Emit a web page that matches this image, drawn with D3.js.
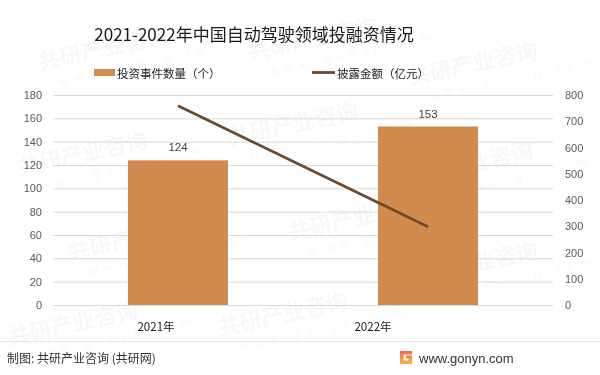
<!DOCTYPE html>
<html lang="zh">
<head>
<meta charset="UTF-8">
<title>2021-2022年中国自动驾驶领域投融资情况</title>
<style>
    body { margin: 0; background: #fff; }
    svg { display: block; font-family: "Noto Sans CJK SC", "Noto Sans", sans-serif; }
</style>
</head>
<body>
<svg id="SVG"></svg>
<script src="https://d3js.org/d3.v7.min.js"></script>
<script>
    // 数据
    var years = ["2021年", "2022年"];
    var eventCounts = [124, 153];        // 投资事件数量（个）
    var amounts = [759, 298];            // 披露金额（亿元）
    var leftTicks = [0, 20, 40, 60, 80, 100, 120, 140, 160, 180];
    var rightTicks = [0, 100, 200, 300, 400, 500, 600, 700, 800];

    var width = 600, height = 375;
    var plotLeft = 53, plotRight = 553, plotTop = 95, plotBottom = 305;

    var svg = d3.select("#SVG").attr("width", width).attr("height", height);

    // 水印
    var wm = svg.append("g").attr("fill", "#000").attr("opacity", 0.035)
        .attr("font-weight", "bold");
    var wmPos = [[40, 70], [250, 60], [410, 85], [20, 175], [230, 145], [405, 185],
                 [70, 260], [290, 240], [410, 285], [10, 345], [220, 335]];
    wmPos.forEach(function (p) {
        var g = wm.append("g").attr("transform", `translate(${p[0]},${p[1]}) rotate(-12)`);
        g.append("text").attr("font-size", 22).text("共研产业咨询");
        g.append("text").attr("y", 19).attr("x", 16).attr("font-size", 12)
            .attr("letter-spacing", 6).attr("font-weight", "normal").text("www.gonyn.com");
    });

    // 标题
    svg.append("text")
        .attr("x", 254).attr("y", 41)
        .attr("text-anchor", "middle")
        .attr("font-size", 17).attr("fill", "#1a1a1a")
        .text("2021-2022年中国自动驾驶领域投融资情况");

    // 比例尺
    var x = d3.scaleBand().domain(years).range([plotLeft, plotRight])
        .paddingInner(0.6).paddingOuter(0.3);
    var xLabel = d3.scalePoint().domain(years).range([156, 373]);
    var yLeft = d3.scaleLinear().domain([0, 180]).range([plotBottom, plotTop]);
    var yRight = d3.scaleLinear().domain([0, 800]).range([plotBottom, plotTop]);

    // 网格线
    svg.append("g").selectAll("line").data(leftTicks).enter().append("line")
        .attr("x1", plotLeft).attr("x2", plotRight)
        .attr("y1", d => yLeft(d) + 0.5).attr("y2", d => yLeft(d) + 0.5)
        .attr("stroke", "#d9d9d9").attr("stroke-width", 1);

    // 左轴
    var axisL = d3.axisLeft(yLeft).tickValues(leftTicks).tickSize(0).tickPadding(11);
    var gl = svg.append("g").attr("transform", `translate(${plotLeft},0)`).call(axisL);
    gl.select(".domain").remove();
    gl.selectAll("text").attr("font-size", 11).attr("fill", "#595959")
        .attr("font-family", "'Liberation Sans', Arial, sans-serif");

    // 右轴
    var axisR = d3.axisRight(yRight).tickValues(rightTicks).tickSize(0).tickPadding(12);
    var gr = svg.append("g").attr("transform", `translate(${plotRight},0)`).call(axisR);
    gr.select(".domain").remove();
    gr.selectAll("text").attr("font-size", 11).attr("fill", "#595959")
        .attr("font-family", "'Liberation Sans', Arial, sans-serif");

    // 柱子
    svg.append("g").selectAll("rect").data(eventCounts).enter().append("rect")
        .attr("x", (d, i) => x(years[i]))
        .attr("y", d => yLeft(d))
        .attr("width", x.bandwidth())
        .attr("height", d => yLeft(0) - yLeft(d))
        .attr("fill", "#d28b4f");

    // 柱子数值
    svg.append("g").selectAll("text").data(eventCounts).enter().append("text")
        .attr("x", (d, i) => x(years[i]) + x.bandwidth() / 2)
        .attr("y", d => yLeft(d) - 9)
        .attr("text-anchor", "middle")
        .attr("font-size", 11.5).attr("fill", "#404040")
        .attr("font-family", "'Liberation Sans', Arial, sans-serif")
        .text(d => d);

    // 折线
    var line = d3.line()
        .x((d, i) => x(years[i]) + x.bandwidth() / 2)
        .y(d => yRight(d));
    svg.append("path").datum(amounts)
        .attr("d", line)
        .attr("fill", "none")
        .attr("stroke", "#6b4a2e")
        .attr("stroke-width", 2.8);

    // X轴标签
    svg.append("g").selectAll("text").data(years).enter().append("text")
        .attr("x", d => xLabel(d))
        .attr("y", 331)
        .attr("text-anchor", "middle")
        .attr("font-size", 11.5).attr("fill", "#1a1a1a")
        .text(d => d);

    // 图例
    var legend = svg.append("g").attr("font-size", 11.5).attr("fill", "#1a1a1a");
    legend.append("rect").attr("x", 94).attr("y", 69).attr("width", 21).attr("height", 7).attr("fill", "#d28b4f");
    legend.append("text").attr("x", 117).attr("y", 77.5).text("投资事件数量（个）");
    legend.append("line").attr("x1", 312).attr("x2", 335).attr("y1", 72.5).attr("y2", 72.5)
        .attr("stroke", "#6b4a2e").attr("stroke-width", 2.8);
    legend.append("text").attr("x", 337).attr("y", 77.5).text("披露金额（亿元）");

    // 底部
    svg.append("line").attr("x1", 0).attr("x2", 600).attr("y1", 341.5).attr("y2", 341.5)
        .attr("stroke", "#e6e6e6");
    svg.append("text").attr("x", 7).attr("y", 363)
        .attr("font-size", 12).attr("fill", "#333")
        .text("制图: 共研产业咨询 (共研网)");

    var defs = svg.append("defs");
    var grad = defs.append("linearGradient").attr("id", "logoGrad")
        .attr("x1", 0).attr("y1", 0).attr("x2", 0).attr("y2", 1);
    grad.append("stop").attr("offset", "0%").attr("stop-color", "#f26b3a");
    grad.append("stop").attr("offset", "100%").attr("stop-color", "#f7b24a");
    svg.append("path")
        .attr("d", "M400,351 h12 v3.5 h-8.5 v6 h5 v-2 h-2.5 v-3 h6 v8.5 h-12 z")
        .attr("fill", "url(#logoGrad)");
    svg.append("text").attr("x", 419).attr("y", 363)
        .attr("font-size", 13).attr("fill", "#333")
        .attr("font-family", "'Liberation Sans', Arial, sans-serif")
        .text("www.gonyn.com");
</script>
</body>
</html>
